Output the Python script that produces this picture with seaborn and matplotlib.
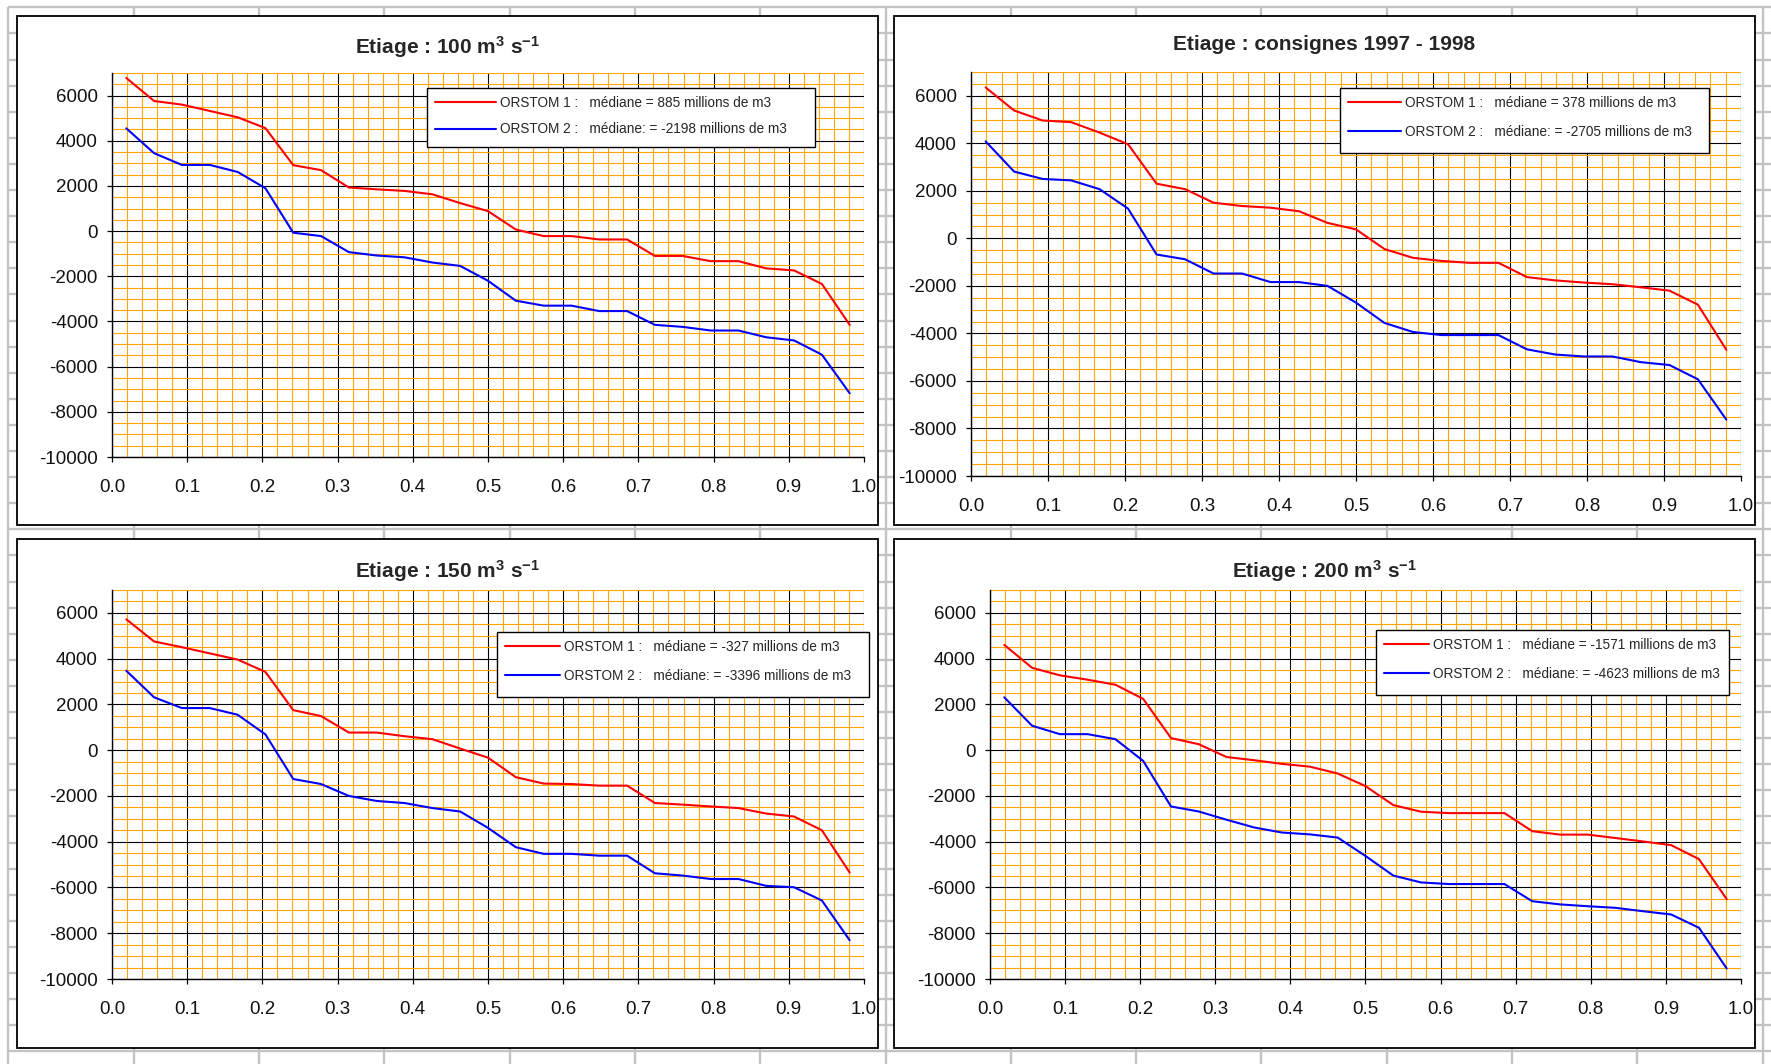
import numpy as np
import pandas as pd
import matplotlib
matplotlib.use("Agg")
import matplotlib.pyplot as plt
import seaborn as sns
from matplotlib.ticker import FixedLocator, FuncFormatter
from matplotlib.patches import Rectangle
from matplotlib.lines import Line2D
from matplotlib.legend_handler import HandlerLine2D
from matplotlib.offsetbox import DrawingArea

# ---------------- data ----------------
freq = [0.019, 0.056, 0.093, 0.130, 0.167, 0.204, 0.241, 0.278, 0.315, 0.352,
        0.389, 0.426, 0.463, 0.500, 0.537, 0.574, 0.611, 0.648, 0.685, 0.722,
        0.759, 0.796, 0.833, 0.870, 0.907, 0.944, 0.981]

e100_orstom1 = [6780, 5760, 5600, 5320, 5040, 4560, 2920, 2700, 1930, 1850, 1780, 1630, 1240, 885,
                70, -220, -220, -370, -370, -1100, -1100, -1330, -1330, -1650, -1740, -2340, -4150]
e100_orstom2 = [4550, 3450, 2930, 2930, 2620, 1900, -70, -220, -930, -1080, -1160, -1390, -1540, -2198,
                -3080, -3300, -3300, -3540, -3540, -4150, -4240, -4400, -4400, -4700, -4840, -5470, -7180]

cons_orstom1 = [6350, 5380, 4960, 4890, 4450, 3960, 2300, 2070, 1500, 1360, 1290, 1140, 650, 378,
                -450, -820, -950, -1030, -1030, -1630, -1770, -1860, -1930, -2060, -2200, -2790, -4690]
cons_orstom2 = [4080, 2810, 2500, 2440, 2070, 1250, -680, -880, -1480, -1480, -1840, -1840, -2000, -2705,
                -3560, -3940, -4070, -4070, -4070, -4670, -4890, -4970, -4970, -5210, -5330, -5930, -7630]

e150_orstom1 = [5720, 4750, 4500, 4230, 3960, 3420, 1750, 1490, 770, 770, 610, 480, 70, -327,
                -1180, -1460, -1480, -1550, -1550, -2310, -2380, -2460, -2530, -2770, -2900, -3500, -5350]
e150_orstom2 = [3470, 2310, 1840, 1840, 1550, 690, -1260, -1480, -2000, -2220, -2310, -2530, -2680, -3396,
                -4240, -4530, -4530, -4610, -4610, -5380, -5480, -5630, -5630, -5930, -5990, -6570, -8310]

e200_orstom1 = [4600, 3600, 3270, 3080, 2860, 2240, 530, 260, -300, -440, -600, -720, -1020, -1571,
                -2400, -2690, -2750, -2750, -2750, -3540, -3690, -3690, -3840, -3990, -4150, -4760, -6510]
e200_orstom2 = [2310, 1070, 700, 700, 480, -470, -2460, -2680, -3040, -3380, -3600, -3680, -3820, -4623,
                -5480, -5780, -5850, -5850, -5850, -6600, -6740, -6820, -6890, -7040, -7180, -7760, -9540]

titles = ["Etiage : 100 m$^{\\mathbf{3}}$ s$^{\\mathbf{-1}}$",
          "Etiage : consignes 1997 - 1998",
          "Etiage : 150 m$^{\\mathbf{3}}$ s$^{\\mathbf{-1}}$",
          "Etiage : 200 m$^{\\mathbf{3}}$ s$^{\\mathbf{-1}}$"]
labels1 = ["ORSTOM 1 :   médiane = 885 millions de m3",
           "ORSTOM 1 :   médiane = 378 millions de m3",
           "ORSTOM 1 :   médiane = -327 millions de m3",
           "ORSTOM 1 :   médiane = -1571 millions de m3"]
labels2 = ["ORSTOM 2 :   médiane: = -2198 millions de m3",
           "ORSTOM 2 :   médiane: = -2705 millions de m3",
           "ORSTOM 2 :   médiane: = -3396 millions de m3",
           "ORSTOM 2 :   médiane: = -4623 millions de m3"]
series1 = [e100_orstom1, cons_orstom1, e150_orstom1, e200_orstom1]
series2 = [e100_orstom2, cons_orstom2, e150_orstom2, e200_orstom2]
x_ticks = [0.0, 0.1, 0.2, 0.3, 0.4, 0.5, 0.6, 0.7, 0.8, 0.9, 1.0]
y_ticks = [-10000, -8000, -6000, -4000, -2000, 0, 2000, 4000, 6000]

# ---------------- layout (pixels) ----------------
W, H = 1771, 1064
frames = [(17, 16, 878, 525), (894, 16, 1755, 525),
          (17, 539, 878, 1048), (894, 539, 1755, 1048)]
plots = [(112, 73, 864, 457), (971, 72, 1741, 476),
         (112, 590, 864, 979), (990, 590, 1741, 979)]
title_y = [47, 45, 571, 571]
legend_boxes = [(427, 88, 815), (1340, 88, 1709), (497, 632, 869), (1376, 630, 1729)]
legend_spacing = [0.9, 1.1, 1.1, 1.1]
legend_extra_bottom = [1.6, 4.0, 4.0, 4.0]
legend_offset_em = [1.3, 0.65, 0.8, 0.12]
LEG_FS = 9.8
VISIBLE_HANDLE_EM = 3.2


class OffsetLineHandler(HandlerLine2D):
    """Legend line that starts a little to the right inside its handle box."""
    def __init__(self, offset_em=1.2, **kw):
        super().__init__(**kw)
        self.offset_em = offset_em

    def create_artists(self, legend, orig_handle, xdescent, ydescent, width, height, fontsize, trans):
        arts = super().create_artists(legend, orig_handle, xdescent, ydescent, width, height, fontsize, trans)
        for a in arts:
            xd = np.asarray(a.get_xdata(), dtype=float)
            if len(xd) == 2:
                a.set_xdata([xd[0] + self.offset_em * fontsize, xd[1]])
        return arts


sns.set_style("white")
plt.rcParams['font.family'] = ['Liberation Sans', 'DejaVu Sans']
plt.rcParams['axes.unicode_minus'] = False
plt.rcParams['mathtext.fontset'] = 'custom'
plt.rcParams['mathtext.rm'] = 'Liberation Sans'
plt.rcParams['mathtext.bf'] = 'Liberation Sans:bold'
plt.rcParams['mathtext.it'] = 'Liberation Sans:italic'

fig = plt.figure(figsize=(W / 100, H / 100), dpi=100)
fig.patch.set_facecolor('white')

# spreadsheet background
bg = fig.add_axes([0, 0, 1, 1], zorder=0)
bg.set_xlim(0, W)
bg.set_ylim(H, 0)
bg.axis('off')
gray = '#C3C3C3'
bg.vlines([8.5 + 125.3 * k for k in range(15)], 7.3, H, color=gray, lw=1.7)
bg.hlines([7.3 + 26.1 * k for k in range(41)], 8.5, W, color=gray, lw=1.7)
for (l, t, r, b), ty, title in zip(frames, title_y, titles):
    bg.add_patch(Rectangle((l, t), r - l, b - t, facecolor='white', edgecolor='black', lw=1.3, zorder=3))
    bg.text((l + r) / 2, ty, title, ha='center', va='center', fontsize=15, fontweight='bold', zorder=4)

minor_x = [i * 0.02 for i in range(51) if i % 5 != 0]
minor_y = [v for v in range(-10000, 7001, 500) if v % 2000 != 0]

for i in range(4):
    x0, y0, x1, y1 = plots[i]
    ax = fig.add_axes([x0 / W, 1 - y1 / H, (x1 - x0) / W, (y1 - y0) / H], zorder=5)
    df = pd.DataFrame({
        'p': freq + freq,
        'v': series1[i] + series2[i],
        'serie': [labels1[i]] * len(freq) + [labels2[i]] * len(freq),
    })
    sns.lineplot(data=df, x='p', y='v', hue='serie',
                 palette={labels1[i]: '#FF0000', labels2[i]: '#0000FF'},
                 linewidth=1.5, ax=ax, legend=False, sort=False)
    ax.set_xlim(0, 1)
    ax.set_ylim(-10000, 7000)
    ax.set_xlabel('')
    ax.set_ylabel('')
    ax.xaxis.set_major_locator(FixedLocator(x_ticks))
    ax.yaxis.set_major_locator(FixedLocator(y_ticks))
    ax.xaxis.set_minor_locator(FixedLocator(minor_x))
    ax.yaxis.set_minor_locator(FixedLocator(minor_y))
    ax.xaxis.set_major_formatter(FuncFormatter(lambda v, p: f"{v:.1f}"))
    ax.yaxis.set_major_formatter(FuncFormatter(lambda v, p: f"{int(round(v))}"))
    ax.set_axisbelow(True)
    ax.grid(True, which='minor', color='#FFA500', lw=0.8)
    ax.grid(True, which='major', color='black', lw=0.8)
    ax.tick_params(which='minor', length=0)
    ax.tick_params(which='major', direction='out', length=3.6, width=0.9, color='black',
                   labelsize=13.5, labelcolor='#111111', left=True, bottom=True)
    ax.tick_params(axis='x', pad=12)
    ax.tick_params(axis='y', pad=6.5)
    for s in ['top', 'right']:
        ax.spines[s].set_visible(False)
    for s in ['left', 'bottom']:
        ax.spines[s].set_color('black')
        ax.spines[s].set_linewidth(1.0)
    ax.set_facecolor('white')

    lx0, ly0, lx1 = legend_boxes[i]
    leg = ax.legend(ax.lines[:2], [labels1[i], labels2[i]], loc='upper left',
                    bbox_to_anchor=(lx0 / W, 1 - ly0 / H, (lx1 - lx0) / W, 0),
                    bbox_transform=fig.transFigure, mode='expand', borderaxespad=0,
                    fontsize=LEG_FS, frameon=True, fancybox=False, framealpha=1,
                    handlelength=VISIBLE_HANDLE_EM + legend_offset_em[i],
                    handletextpad=0.3, borderpad=0.6,
                    labelspacing=legend_spacing[i],
                    handler_map={Line2D: OffsetLineHandler(offset_em=legend_offset_em[i])})
    leg.get_frame().set_edgecolor('black')
    leg.get_frame().set_linewidth(1.0)
    for ln in leg.get_lines():
        ln.set_linewidth(1.5)
    # slightly more room under the entries, as in the original chart
    try:
        leg._legend_box._children.append(DrawingArea(1, legend_extra_bottom[i]))
        leg._legend_box.sep = 0
    except Exception:
        pass

fig.savefig('out.png', dpi=100, facecolor='white')
